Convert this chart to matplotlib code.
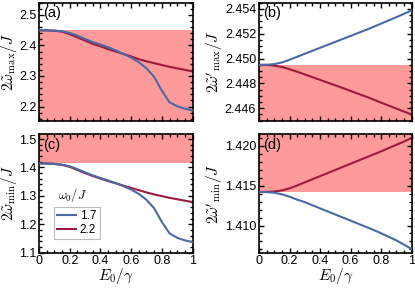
import matplotlib
matplotlib.use('Agg')
import matplotlib.pyplot as plt
from matplotlib.ticker import MultipleLocator, FormatStrFormatter

plt.rcParams['font.family'] = ['Liberation Sans', 'DejaVu Sans']
plt.rcParams['mathtext.fontset'] = 'cm'
plt.rcParams['font.size'] = 9

E0 = [0, 0.05, 0.1, 0.15, 0.2, 0.25, 0.3, 0.35, 0.4, 0.45, 0.5,
      0.55, 0.6, 0.65, 0.7, 0.75, 0.8, 0.85, 0.9, 0.95, 1.0]

# (a) 2 w_max / J
a_blue = [2.4495, 2.4493, 2.4485, 2.4465, 2.441, 2.432, 2.421, 2.411, 2.403, 2.394, 2.384,
          2.372, 2.360, 2.345, 2.325, 2.297, 2.252, 2.214, 2.201, 2.193, 2.187]
a_red = [2.4495, 2.4492, 2.448, 2.445, 2.437, 2.426, 2.416, 2.405, 2.397, 2.388, 2.380,
         2.372, 2.364, 2.355, 2.348, 2.342, 2.336, 2.330, 2.325, 2.320, 2.315]

# (b) 2 w'_max / J
b_blue = [2.44949, 2.44950, 2.44955, 2.44968, 2.44990, 2.45014, 2.45038, 2.45062, 2.45086, 2.45110, 2.45134,
          2.45158, 2.45182, 2.45206, 2.45230, 2.45255, 2.45281, 2.45307, 2.45333, 2.45360, 2.45387]
b_red = [2.44949, 2.44948, 2.44943, 2.44932, 2.44914, 2.44894, 2.44872, 2.44850, 2.44828, 2.44806, 2.44784,
         2.44762, 2.44739, 2.44716, 2.44694, 2.44670, 2.44645, 2.44621, 2.44597, 2.44573, 2.44549]

# (c) 2 w_min / J
c_blue = [1.4142, 1.414, 1.4125, 1.410, 1.404, 1.394, 1.383, 1.372, 1.363, 1.354, 1.345,
          1.334, 1.322, 1.307, 1.286, 1.256, 1.208, 1.168, 1.152, 1.143, 1.137]
c_red = [1.4142, 1.414, 1.4125, 1.409, 1.402, 1.391, 1.380, 1.370, 1.361, 1.352, 1.344,
         1.336, 1.328, 1.320, 1.312, 1.305, 1.299, 1.293, 1.288, 1.283, 1.278]

# (d) 2 w'_min / J
d_blue = [1.41421, 1.41420, 1.41412, 1.41393, 1.41362, 1.41325, 1.41294, 1.41255, 1.41216, 1.41177, 1.41138,
          1.41100, 1.41061, 1.41022, 1.40984, 1.40945, 1.40902, 1.40858, 1.40813, 1.40760, 1.40705]
d_red = [1.41421, 1.41422, 1.41428, 1.41441, 1.41467, 1.41503, 1.41542, 1.41581, 1.41620, 1.41659, 1.41698,
         1.41737, 1.41776, 1.41815, 1.41854, 1.41893, 1.41932, 1.41973, 1.42014, 1.42055, 1.42100]

omega0_labels = ['1.7', '2.2']
max_edge = 2.44949   # sqrt(6)
min_edge = 1.41421   # sqrt(2)

BLUE = '#4a6aa6'
RED = '#9c1a3c'
SHADE = '#ff9a9a'

fig = plt.figure(figsize=(4.15, 2.9), dpi=100)

def make_ax(rect, blue, red, ylim, ymaj, ymin, fmt, ylabel, tag, shade, xlabel=False):
    ax = fig.add_axes(rect)
    ax.axhspan(shade[0], shade[1], color=SHADE, lw=0, zorder=0)
    l1, = ax.plot(E0, blue, color=BLUE, lw=1.5, zorder=3)
    l2, = ax.plot(E0, red, color=RED, lw=1.5, zorder=2)
    ax.set_xlim(0, 1)
    ax.set_ylim(*ylim)
    ax.xaxis.set_major_locator(MultipleLocator(0.2))
    ax.xaxis.set_minor_locator(MultipleLocator(0.05))
    ax.yaxis.set_major_locator(MultipleLocator(ymaj))
    ax.yaxis.set_minor_locator(MultipleLocator(ymin))
    ax.yaxis.set_major_formatter(FormatStrFormatter(fmt))
    ax.xaxis.set_major_formatter(plt.FuncFormatter(lambda v, p: '%g' % round(v, 2)))
    ax.tick_params(which='both', direction='in', top=True, right=True, width=1.0)
    ax.tick_params(which='major', length=3.5, pad=2)
    ax.tick_params(which='minor', length=2)
    for s in ax.spines.values():
        s.set_linewidth(1.2)
    ax.set_ylabel(ylabel, fontsize=11, labelpad=0)
    if xlabel:
        ax.set_xlabel(r'$E_0/\gamma$', fontsize=11, labelpad=-1)
    else:
        ax.set_xticklabels([])
    ax.text(0.025, 0.97, tag, transform=ax.transAxes, ha='left', va='top', fontsize=10.5, zorder=5)
    return ax, l1, l2

axa, _, _ = make_ax([0.094, 0.584, 0.370, 0.407], a_blue, a_red, (2.154, 2.540), 0.1, 0.02, '%.1f',
                    r'$2\tilde{\omega}_{\max}/J$', '(a)', (2.154, max_edge))
axb, _, _ = make_ax([0.624, 0.584, 0.368, 0.407], b_blue, b_red, (2.4450, 2.4545), 0.002, 0.0005, '%.3f',
                    r"$2\tilde{\omega}'_{\max}/J$", '(b)', (2.4450, max_edge))
axc, lb, lr = make_ax([0.094, 0.129, 0.370, 0.409], c_blue, c_red, (1.1, 1.518), 0.1, 0.02, '%.1f',
                      r'$2\tilde{\omega}_{\min}/J$', '(c)', (min_edge, 1.518), xlabel=True)
axd, _, _ = make_ax([0.624, 0.129, 0.368, 0.409], d_blue, d_red, (1.4066, 1.4215), 0.005, 0.001, '%.3f',
                    r"$2\tilde{\omega}'_{\min}/J$", '(d)', (min_edge, 1.4215), xlabel=True)

leg = axc.legend([lb, lr], omega0_labels, loc='upper left', bbox_to_anchor=(0.095, 0.385),
                 frameon=True, fancybox=False, fontsize=8.5, handlelength=1.6,
                 handletextpad=0.3, borderpad=0.3, labelspacing=0.1, borderaxespad=0)
leg.get_frame().set_edgecolor('#aaaaaa')
leg.get_frame().set_linewidth(0.8)
axc.text(0.22, 0.41, r'$\omega_0/J$', transform=axc.transAxes, ha='center', va='bottom', fontsize=9)

fig.savefig('out.png', dpi=100)
